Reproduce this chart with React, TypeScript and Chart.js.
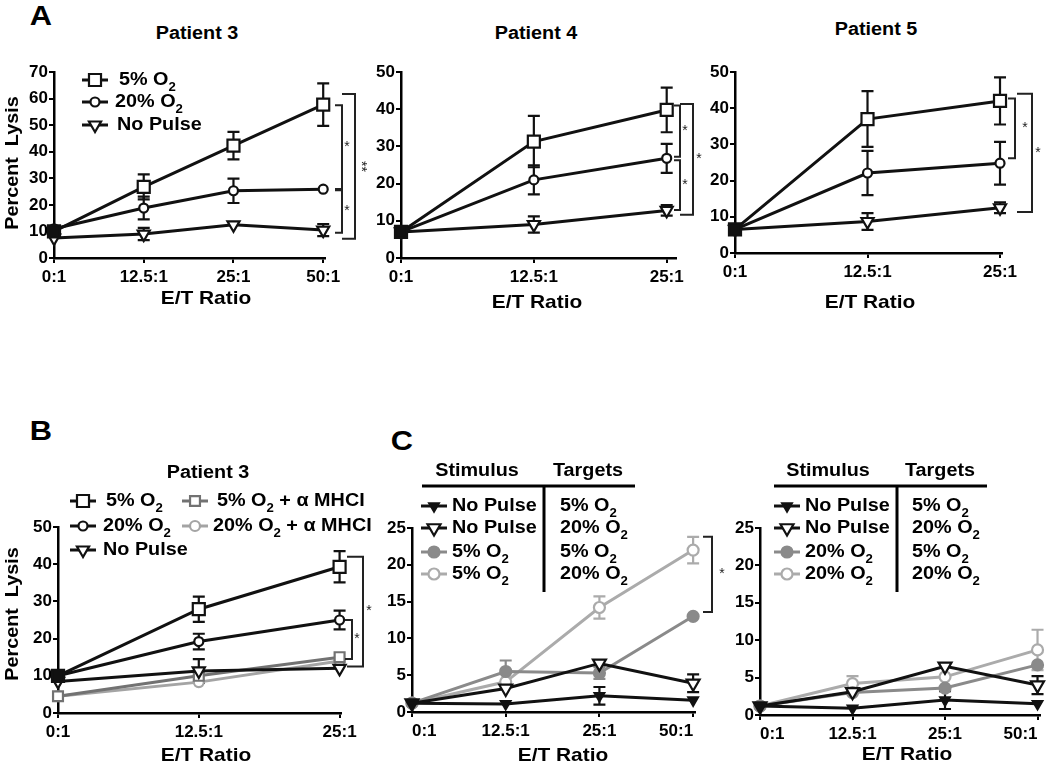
import React, { useEffect, useRef } from 'react';
import { Chart, registerables } from 'chart.js';

Chart.register(...registerables);

const FONT = "'Liberation Sans', Arial, Helvetica, sans-serif";
const SX = 1.1; // horizontal stretch of the reference lettering
const BLACK = '#111111';
const GRAY_DARK = '#727272';
const GRAY_LIGHT = '#a4a4a4';
const GRAY_FILL = '#8a8a8a';
const GRAY_OPEN = '#ababab';

// ===== Categories / tick labels =====
const ratios4 = ['0:1', '12.5:1', '25:1', '50:1'];
const ratios3 = ['0:1', '12.5:1', '25:1'];

// ===== A: Patient 3 =====
const p3O5 = [10, 26.8, 42.3, 57.7];
const p3O5Err = [0, 4.7, 5.2, 8];
const p3O20 = [11, 18.8, 25.3, 25.9];
const p3O20Err = [0, 4.3, 4.6, 0];
const p3NoPulse = [7.5, 9, 12.5, 10.5];
const p3NoPulseErr = [0, 2.3, 0, 2.3];
const p3Brackets = [[57.5, 26], [25.5, 9.5], [61.7, 7.2]];

// ===== A: Patient 4 =====
const p4O5 = [7, 31.3, 39.8];
const p4O5Err = [0, 6.9, 6];
const p4O20 = [7, 21, 26.8];
const p4O20Err = [0, 3.9, 3.9];
const p4NoPulse = [7, 9, 12.8];
const p4NoPulseErr = [0, 2.2, 1.4];
const p4Brackets = [[41, 27.2], [26.3, 12.9], [41.4, 11.6]];

// ===== A: Patient 5 =====
const p5O5 = [6.5, 37, 42];
const p5O5Err = [0, 7.7, 6.5];
const p5O20 = [6.5, 22.1, 24.8];
const p5O20Err = [0, 6.1, 5.9];
const p5NoPulse = [6.5, 8.7, 12.5];
const p5NoPulseErr = [0, 2.3, 1.5];
const p5Brackets = [[42.7, 26.2], [44, 11.3]];

// ===== B: Patient 3 with anti-MHCI =====
const bO5 = [10, 27.9, 39.3];
const bO5Err = [0, 3.4, 4.2];
const bO20 = [10, 19.2, 25];
const bO20Err = [0, 2.1, 2.5];
const bNoPulse = [8.5, 11.3, 12];
const bNoPulseErr = [0, 3.2, 0];
const bO5Mhc = [4.5, 10, 15];
const bO5MhcErr = [0, 0, 0];
const bO20Mhc = [4.5, 8.3, 14];
const bO20MhcErr = [0, 0, 0];
const bBrackets = [[25, 14.5], [42, 12.5]];

// ===== C: left (5% O2 stimulus) =====
const c1NpT5 = [1.2, 1.1, 2.2, 1.6];
const c1NpT5Err = [0, 0, 1.2, 0];
const c1NpT20 = [1.2, 3.2, 6.6, 3.9];
const c1NpT20Err = [0, 0, 0, 1.2];
const c1O5T5 = [1.2, 5.5, 5.3, 13];
const c1O5T5Err = [0, 1.5, 0.8, 0];
const c1O5T20 = [1.2, 4.1, 14.2, 22];
const c1O5T20Err = [0, 0, 1.5, 1.8];
const c1Brackets = [[23.8, 13.6]];

// ===== C: right (20% O2 stimulus) =====
const c2NpT5 = [1.2, 0.9, 2.0, 1.5];
const c2NpT5Err = [0, 0, 1.2, 0];
const c2NpT20 = [1.2, 3.1, 6.5, 4.0];
const c2NpT20Err = [0, 0, 0, 1.2];
const c2O20T5 = [1.2, 3.0, 3.6, 6.7];
const c2O20T5Err = [0, 0, 0, 0];
const c2O20T20 = [1.2, 4.2, 5.1, 8.7];
const c2O20T20Err = [0, 1, 0, 2.7];

type Series = { data: number[]; err: number[]; color: string; fill: string | string[]; style: string; radius: number };
type Bracket = { vals: number[]; x: number; x0: number; star: string; dx: number; rot?: boolean };
type LegendRow = { s: number; y: number; mx: number; tx: number; text: string; target?: string; ttx?: number };
type Table = { hy: number; hx0: number; hx1: number; vx: number; vy1: number; h1: string; h1x: number; h2: string; h2x: number; hty: number };
type Spec = {
  area: { l: number; t: number; r: number; b: number };
  ct: number; cr: number;
  yMax: number; yStep: number; xMax: number; labels: string[]; align: string;
  series: Series[]; brackets: Bracket[]; legend: LegendRow[]; table?: Table;
};

const YW = 40;
const XH = 30;
function geom(p: Spec) {
  const cl = p.area.l - YW;
  const ct = p.ct;
  const cw = p.cr - cl;
  const ch = p.area.b + XH + 2 - ct;
  return { cl, ct, cw, ch };
}

function drawMarker(ctx: CanvasRenderingContext2D, style: string, x: number, y: number, r: number, stroke: string, fill: string) {
  ctx.save();
  ctx.beginPath();
  if (style === 'rect') {
    const s = r * Math.SQRT1_2;
    ctx.rect(x - s, y - s, 2 * s, 2 * s);
  } else if (style === 'circle') {
    ctx.arc(x, y, r, 0, Math.PI * 2);
  } else {
    ctx.moveTo(x, y + r);
    ctx.lineTo(x - r * 0.866, y - r * 0.5);
    ctx.lineTo(x + r * 0.866, y - r * 0.5);
    ctx.closePath();
  }
  ctx.fillStyle = fill;
  ctx.fill();
  ctx.lineWidth = 2.2;
  ctx.strokeStyle = stroke;
  ctx.stroke();
  ctx.restore();
}

function richText(ctx: CanvasRenderingContext2D, text: string, x: number, y: number, size: number, align = 'left') {
  const parts = text.split(/_(\d)/);
  const big = `bold ${size}px ${FONT}`;
  const small = `bold ${Math.round(size * 0.68)}px ${FONT}`;
  let w = 0;
  parts.forEach((pt, i) => { ctx.font = i % 2 ? small : big; w += ctx.measureText(pt).width; });
  ctx.save();
  ctx.translate(x, y);
  ctx.scale(SX, 1);
  let cx = align === 'center' ? -w / 2 : 0;
  ctx.textBaseline = 'middle';
  ctx.textAlign = 'left';
  ctx.fillStyle = '#000';
  parts.forEach((pt, i) => {
    ctx.font = i % 2 ? small : big;
    ctx.fillText(pt, cx, i % 2 ? size * 0.4 : 0);
    cx += ctx.measureText(pt).width;
  });
  ctx.restore();
}

function extrasPlugin(p: Spec) {
  const g = geom(p);
  return {
    id: 'extras',
    beforeDatasetsDraw(chart: any) {
      const ctx = chart.ctx as CanvasRenderingContext2D;
      const ys = chart.scales.y;
      p.series.forEach((s, i) => {
        const meta = chart.getDatasetMeta(i);
        s.err.forEach((e, j) => {
          if (!e) return;
          const x = meta.data[j].x;
          const yT = ys.getPixelForValue(s.data[j] + e);
          const yB = ys.getPixelForValue(Math.max(0, s.data[j] - e));
          ctx.save();
          ctx.strokeStyle = s.color;
          ctx.lineWidth = 2.2;
          ctx.beginPath();
          ctx.moveTo(x, yT); ctx.lineTo(x, yB);
          ctx.moveTo(x - 6, yT); ctx.lineTo(x + 6, yT);
          ctx.moveTo(x - 6, yB); ctx.lineTo(x + 6, yB);
          ctx.stroke();
          ctx.restore();
        });
      });
    },
    afterDraw(chart: any) {
      const ctx = chart.ctx as CanvasRenderingContext2D;
      const ys = chart.scales.y;
      // significance brackets
      p.brackets.forEach((b) => {
        const yT = ys.getPixelForValue(b.vals[0]);
        const yB = ys.getPixelForValue(b.vals[1]);
        const x = b.x - g.cl;
        const x0 = b.x0 - g.cl;
        ctx.save();
        ctx.strokeStyle = '#222';
        ctx.lineWidth = 2;
        ctx.beginPath();
        ctx.moveTo(x0, yT); ctx.lineTo(x, yT); ctx.lineTo(x, yB); ctx.lineTo(x0, yB);
        ctx.stroke();
        ctx.fillStyle = '#222';
        ctx.font = `14px ${FONT}`;
        ctx.textAlign = 'center';
        ctx.textBaseline = 'middle';
        const sx = x + b.dx;
        const sy = (yT + yB) / 2;
        if (b.rot) {
          ctx.translate(sx, sy);
          ctx.rotate(Math.PI / 2);
          ctx.fillText(b.star, 0, 0);
        } else {
          ctx.fillText(b.star, sx, sy);
        }
        ctx.restore();
      });
      // table header for panel C
      if (p.table) {
        const t = p.table;
        ctx.save();
        ctx.strokeStyle = '#000';
        ctx.lineWidth = 3;
        ctx.beginPath();
        ctx.moveTo(t.hx0 - g.cl, t.hy - g.ct); ctx.lineTo(t.hx1 - g.cl, t.hy - g.ct);
        ctx.moveTo(t.vx - g.cl, t.hy - g.ct); ctx.lineTo(t.vx - g.cl, t.vy1 - g.ct);
        ctx.stroke();
        ctx.restore();
        richText(ctx, t.h1, t.h1x - g.cl, t.hty - g.ct, 18, 'center');
        richText(ctx, t.h2, t.h2x - g.cl, t.hty - g.ct, 18, 'center');
      }
      // legend rows
      p.legend.forEach((row) => {
        const s = p.series[row.s];
        const mx = row.mx - g.cl;
        const y = row.y - g.ct;
        ctx.save();
        ctx.strokeStyle = s.color;
        ctx.lineWidth = 3;
        ctx.beginPath();
        ctx.moveTo(mx - 13, y); ctx.lineTo(mx + 13, y);
        ctx.stroke();
        ctx.restore();
        const fill = Array.isArray(s.fill) ? s.fill[1] : s.fill;
        drawMarker(ctx, s.style, mx, y, s.radius, s.color, fill);
        richText(ctx, row.text, row.tx - g.cl, y, 18);
        if (row.target && row.ttx) richText(ctx, row.target, row.ttx - g.cl, y, 18);
      });
    },
  };
}

function buildConfig(p: Spec): any {
  const g = geom(p);
  const tickFont = { family: FONT, size: 17, weight: 'bold' };
  const grid = { display: true, drawOnChartArea: false, drawTicks: true, tickLength: 5, color: '#000', lineWidth: 2 };
  const border = { display: true, color: '#000', width: 2.5 };
  return {
    type: 'line',
    data: {
      datasets: p.series.map((s) => ({
        data: s.data.map((v, i) => ({ x: i, y: v })),
        borderColor: s.color,
        borderWidth: 3,
        pointStyle: s.style,
        pointRotation: s.style === 'triangle' ? 180 : 0,
        pointRadius: s.radius,
        pointBorderWidth: 2.2,
        pointBorderColor: s.color,
        pointBackgroundColor: s.fill,
        tension: 0,
        clip: false,
      })),
    },
    options: {
      animation: false,
      responsive: false,
      maintainAspectRatio: false,
      events: [],
      layout: { padding: { left: 0, top: p.area.t - g.ct, right: p.cr - p.area.r, bottom: 2 } },
      plugins: { legend: { display: false }, tooltip: { enabled: false }, title: { display: false } },
      scales: {
        x: {
          type: 'linear',
          min: 0,
          max: p.xMax,
          afterBuildTicks: (sc: any) => { sc.ticks = p.labels.map((_, i) => ({ value: i })); },
          afterFit: (sc: any) => { sc.height = XH; sc.paddingLeft = 0; sc.paddingRight = 0; },
          ticks: {
            callback: (v: number) => p.labels[Math.round(v)] ?? '',
            font: tickFont, color: '#000', padding: 4, maxRotation: 0, autoSkip: false, align: p.align,
          },
          grid, border,
        },
        y: {
          type: 'linear',
          min: 0,
          max: p.yMax,
          afterFit: (sc: any) => { sc.width = YW; sc.paddingTop = 0; sc.paddingBottom = 0; },
          ticks: { stepSize: p.yStep, font: tickFont, color: '#000', padding: 1 },
          grid, border,
        },
      },
    },
    plugins: [extrasPlugin(p)],
  };
}

const blackSeries3 = (o5: number[], o5e: number[], o20: number[], o20e: number[], np: number[], npe: number[]): Series[] => [
  { data: o5, err: o5e, color: BLACK, fill: o5.map((_, i) => (i === 0 ? BLACK : '#fff')), style: 'rect', radius: 8.5 },
  { data: o20, err: o20e, color: BLACK, fill: '#fff', style: 'circle', radius: 4.5 },
  { data: np, err: npe, color: BLACK, fill: '#fff', style: 'triangle', radius: 7 },
];

const specA1: Spec = {
  area: { l: 54, t: 72, r: 325, b: 258 }, ct: 58, cr: 372,
  yMax: 70, yStep: 10, xMax: 3.02, labels: ratios4, align: 'center',
  series: blackSeries3(p3O5, p3O5Err, p3O20, p3O20Err, p3NoPulse, p3NoPulseErr),
  brackets: [
    { vals: p3Brackets[0], x: 342, x0: 335, star: '*', dx: 5 },
    { vals: p3Brackets[1], x: 342, x0: 335, star: '*', dx: 5 },
    { vals: p3Brackets[2], x: 355, x0: 342, star: '**', dx: 6, rot: true },
  ],
  legend: [
    { s: 0, y: 80, mx: 95, tx: 119, text: '5% O_2' },
    { s: 1, y: 102, mx: 95, tx: 115, text: '20% O_2' },
    { s: 2, y: 125, mx: 95, tx: 117, text: 'No Pulse' },
  ],
};

const specA2: Spec = {
  area: { l: 401, t: 72, r: 676, b: 258 }, ct: 58, cr: 712,
  yMax: 50, yStep: 10, xMax: 2.07, labels: ratios3, align: 'center',
  series: blackSeries3(p4O5, p4O5Err, p4O20, p4O20Err, p4NoPulse, p4NoPulseErr),
  brackets: [
    { vals: p4Brackets[0], x: 680, x0: 674, star: '*', dx: 5 },
    { vals: p4Brackets[1], x: 680, x0: 674, star: '*', dx: 5 },
    { vals: p4Brackets[2], x: 693, x0: 680, star: '*', dx: 6 },
  ],
  legend: [],
};

const specA3: Spec = {
  area: { l: 735, t: 72, r: 1002, b: 253 }, ct: 58, cr: 1048,
  yMax: 50, yStep: 10, xMax: 2.015, labels: ratios3, align: 'center',
  series: blackSeries3(p5O5, p5O5Err, p5O20, p5O20Err, p5NoPulse, p5NoPulseErr),
  brackets: [
    { vals: p5Brackets[0], x: 1015, x0: 1008, star: '*', dx: 10 },
    { vals: p5Brackets[1], x: 1032, x0: 1017, star: '*', dx: 6 },
  ],
  legend: [],
};

const specB: Spec = {
  area: { l: 58, t: 527, r: 341, b: 713 }, ct: 480, cr: 376,
  yMax: 50, yStep: 10, xMax: 2.01, labels: ratios3, align: 'center',
  series: [
    ...blackSeries3(bO5, bO5Err, bO20, bO20Err, bNoPulse, bNoPulseErr),
    { data: bO5Mhc, err: bO5MhcErr, color: GRAY_DARK, fill: '#fff', style: 'rect', radius: 7 },
    { data: bO20Mhc, err: bO20MhcErr, color: GRAY_LIGHT, fill: '#fff', style: 'circle', radius: 5 },
  ],
  brackets: [
    { vals: bBrackets[0], x: 352, x0: 345, star: '*', dx: 5 },
    { vals: bBrackets[1], x: 363, x0: 347, star: '*', dx: 6 },
  ],
  legend: [
    { s: 0, y: 501, mx: 83, tx: 106, text: '5% O_2' },
    { s: 1, y: 526, mx: 83, tx: 103, text: '20% O_2' },
    { s: 2, y: 550, mx: 83, tx: 103, text: 'No Pulse' },
    { s: 3, y: 501, mx: 195, tx: 217, text: '5% O_2 + α MHCI' },
    { s: 4, y: 526, mx: 195, tx: 213, text: '20% O_2 + α MHCI' },
  ],
};

const cSeries = (np5: number[], np5e: number[], np20: number[], np20e: number[], g5: number[], g5e: number[], g20: number[], g20e: number[]): Series[] => [
  { data: np5, err: np5e, color: BLACK, fill: BLACK, style: 'triangle', radius: 5.5 },
  { data: np20, err: np20e, color: BLACK, fill: '#fff', style: 'triangle', radius: 7.5 },
  { data: g5, err: g5e, color: GRAY_FILL, fill: GRAY_FILL, style: 'circle', radius: 5.5 },
  { data: g20, err: g20e, color: GRAY_OPEN, fill: '#fff', style: 'circle', radius: 5.5 },
];

const specC1: Spec = {
  area: { l: 412, t: 528, r: 695, b: 712 }, ct: 458, cr: 732,
  yMax: 25, yStep: 5, xMax: 3.02, labels: ratios4, align: 'inner',
  series: cSeries(c1NpT5, c1NpT5Err, c1NpT20, c1NpT20Err, c1O5T5, c1O5T5Err, c1O5T20, c1O5T20Err),
  brackets: [{ vals: c1Brackets[0], x: 712, x0: 703, star: '*', dx: 10 }],
  table: { hy: 486, hx0: 422, hx1: 635, vx: 544, vy1: 592, h1: 'Stimulus', h1x: 477, h2: 'Targets', h2x: 588, hty: 471 },
  legend: [
    { s: 0, y: 506, mx: 434, tx: 452, text: 'No Pulse', target: '5% O_2', ttx: 560 },
    { s: 1, y: 528, mx: 434, tx: 452, text: 'No Pulse', target: '20% O_2', ttx: 560 },
    { s: 2, y: 552, mx: 434, tx: 452, text: '5% O_2', target: '5% O_2', ttx: 560 },
    { s: 3, y: 574, mx: 434, tx: 452, text: '5% O_2', target: '20% O_2', ttx: 560 },
  ],
};

const specC2: Spec = {
  area: { l: 760, t: 528, r: 1045, b: 715 }, ct: 458, cr: 1050,
  yMax: 25, yStep: 5, xMax: 3.03, labels: ratios4, align: 'inner',
  series: cSeries(c2NpT5, c2NpT5Err, c2NpT20, c2NpT20Err, c2O20T5, c2O20T5Err, c2O20T20, c2O20T20Err),
  brackets: [],
  table: { hy: 486, hx0: 774, hx1: 987, vx: 897, vy1: 592, h1: 'Stimulus', h1x: 828, h2: 'Targets', h2x: 940, hty: 471 },
  legend: [
    { s: 0, y: 506, mx: 787, tx: 805, text: 'No Pulse', target: '5% O_2', ttx: 912 },
    { s: 1, y: 528, mx: 787, tx: 805, text: 'No Pulse', target: '20% O_2', ttx: 912 },
    { s: 2, y: 552, mx: 787, tx: 805, text: '20% O_2', target: '5% O_2', ttx: 912 },
    { s: 3, y: 574, mx: 787, tx: 805, text: '20% O_2', target: '20% O_2', ttx: 912 },
  ],
};

const PANELS = [specA1, specA2, specA3, specB, specC1, specC2];

const TEXTS: { t: string; x: number; y: number; s: number; rot?: boolean }[] = [
  { t: 'A', x: 41, y: 16, s: 28 },
  { t: 'Patient 3', x: 197, y: 33, s: 18 },
  { t: 'Patient 4', x: 536, y: 33, s: 18 },
  { t: 'Patient 5', x: 876, y: 29, s: 18 },
  { t: 'Percent  Lysis', x: 12, y: 163, s: 18, rot: true },
  { t: 'E/T Ratio', x: 206, y: 297, s: 19 },
  { t: 'E/T Ratio', x: 537, y: 301, s: 19 },
  { t: 'E/T Ratio', x: 870, y: 301, s: 19 },
  { t: 'B', x: 41, y: 431, s: 28 },
  { t: 'Patient 3', x: 208, y: 472, s: 18 },
  { t: 'Percent  Lysis', x: 12, y: 614, s: 18, rot: true },
  { t: 'E/T Ratio', x: 206, y: 754, s: 19 },
  { t: 'C', x: 402, y: 441, s: 28 },
  { t: 'E/T Ratio', x: 563, y: 754, s: 19 },
  { t: 'E/T Ratio', x: 907, y: 753, s: 19 },
];

function Panel({ spec }: { spec: Spec }) {
  const ref = useRef<HTMLCanvasElement>(null);
  const g = geom(spec);
  useEffect(() => {
    const chart = new Chart(ref.current as HTMLCanvasElement, buildConfig(spec));
    return () => chart.destroy();
  }, []);
  return (
    <canvas
      ref={ref}
      width={g.cw}
      height={g.ch}
      style={{ position: 'absolute', left: g.cl, top: g.ct, width: g.cw, height: g.ch }}
    />
  );
}

export default function App() {
  return (
    <div style={{ position: 'fixed', left: 0, top: 0, width: 1050, height: 764, background: '#fff', overflow: 'hidden' }}>
      {PANELS.map((p, i) => <Panel key={i} spec={p} />)}
      {TEXTS.map((t, i) => (
        <div
          key={'t' + i}
          style={{
            position: 'absolute', left: t.x, top: t.y,
            transform: `translate(-50%, -50%)${t.rot ? ' rotate(-90deg)' : ''} scaleX(${SX})`,
            fontFamily: FONT, fontWeight: 'bold', fontSize: t.s, lineHeight: 1,
            whiteSpace: 'pre', color: '#000',
          }}
        >
          {t.t}
        </div>
      ))}
    </div>
  );
}
